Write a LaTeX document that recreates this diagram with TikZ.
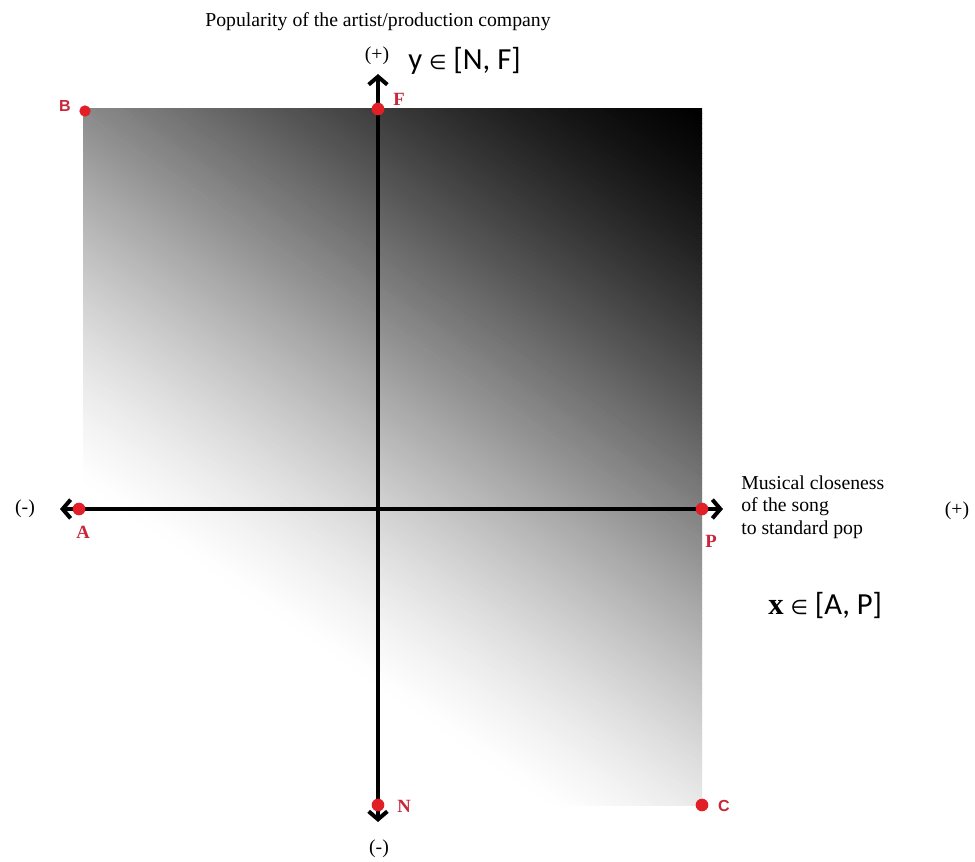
\documentclass[tikz,border=0pt]{standalone}
\usepackage{fontspec}
\setmainfont{Liberation Serif}
\newfontfamily\calib{Carlito}
\newfontfamily\arialf{Liberation Sans}
\newfontfamily\dejavu{DejaVu Sans}
\usetikzlibrary{arrows.meta}
\definecolor{dotred}{RGB}{226,30,38}
\definecolor{lblred}{RGB}{200,38,58}
\tikzset{
 axisline/.style={line width=3pt, {Straight Barb[length=6pt,width=14pt]}-{Straight Barb[length=6pt,width=14pt]}},
 reddot/.style={circle, fill=dotred, inner sep=0pt, minimum size=9.5pt},
 serlbl/.style={text=lblred, font=\rmfamily\bfseries\fontsize{14}{16}\selectfont, inner sep=0pt},
 sanslbl/.style={text=lblred, font=\arialf\bfseries\fontsize{12}{14}\selectfont, inner sep=0pt},
 txt/.style={font=\rmfamily\fontsize{14.8}{17}\selectfont, inner sep=0pt},
 bigtxt/.style={font=\calib\fontsize{23}{27}\selectfont, inner sep=0pt},
}
\newcommand{\elem}{{\dejavu\fontsize{15}{15}\selectfont ∈}}
\begin{document}
\begin{tikzpicture}[x=0.75pt,y=-0.75pt]
\fill[white] (0,0) rectangle (975,861);
\useasboundingbox (0,0) rectangle (975,861);
% gradient square
\begin{scope}
\clip (83,108) rectangle (702,805);
\foreach \i in {0,...,159}{
  \pgfmathsetmacro\cz{5*\i}
  \pgfmathsetmacro\co{5*\i+5.8}
  \pgfmathsetmacro\tt{(5*\i+2.5)/800}
  \pgfmathsetmacro\bk{100-100*(0.5*\tt+0.5*(3*\tt*\tt-2*\tt*\tt*\tt))}
  \fill[black!\bk] (83,{108+\cz-427.1}) -- (702,{108+\cz}) -- (702,{108+\co}) -- (83,{108+\co-427.1}) -- cycle;
}
\end{scope}
% axes
\coordinate (xl) at (60,509);
\coordinate (xr) at (723,509);
\coordinate (yt) at (378,74);
\coordinate (yb) at (378,822);
\draw[axisline] (xl) -- (xr);
\draw[axisline] (yb) -- (yt);
% dots
\node[reddot, minimum size=8.5pt] (B) at (85,111) {};
\node[reddot] (F) at (378,109) {};
\node[reddot] (A) at (79,509) {};
\node[reddot] (P) at (702,509) {};
\node[reddot] (N) at (378,805) {};
\node[reddot] (C) at (702,805) {};
% labels
\node[sanslbl] (lB) at (65,106) {B};
\node[serlbl] (lF) at (399,99) {F};
\node[serlbl] (lA) at (83,532) {A};
\node[serlbl] (lP) at (711,541) {P};
\node[serlbl] (lN) at (404,806) {N};
\node[sanslbl] (lC) at (724,806) {C};
% texts
\node[txt] (title) at (378,22) {Popularity of the artist/production company};
\node[txt] (pt) at (377,56) {(+)};
\node[bigtxt, anchor=west] (yr) at (408,61) {y \elem{} [N, F]};
\node[txt, anchor=west, align=left] (mus) at (741,507) {Musical closeness\\of the song\\to standard pop};
\node[txt] (pr) at (957,511) {(+)};
\node[bigtxt, anchor=west] (xrng) at (768,605) {{\rmfamily\bfseries x} \elem{} [A, P]};
\node[txt] (ml) at (25,509) {(-)};
\node[txt] (mb) at (379,849) {(-)};
\end{tikzpicture}
\end{document}
